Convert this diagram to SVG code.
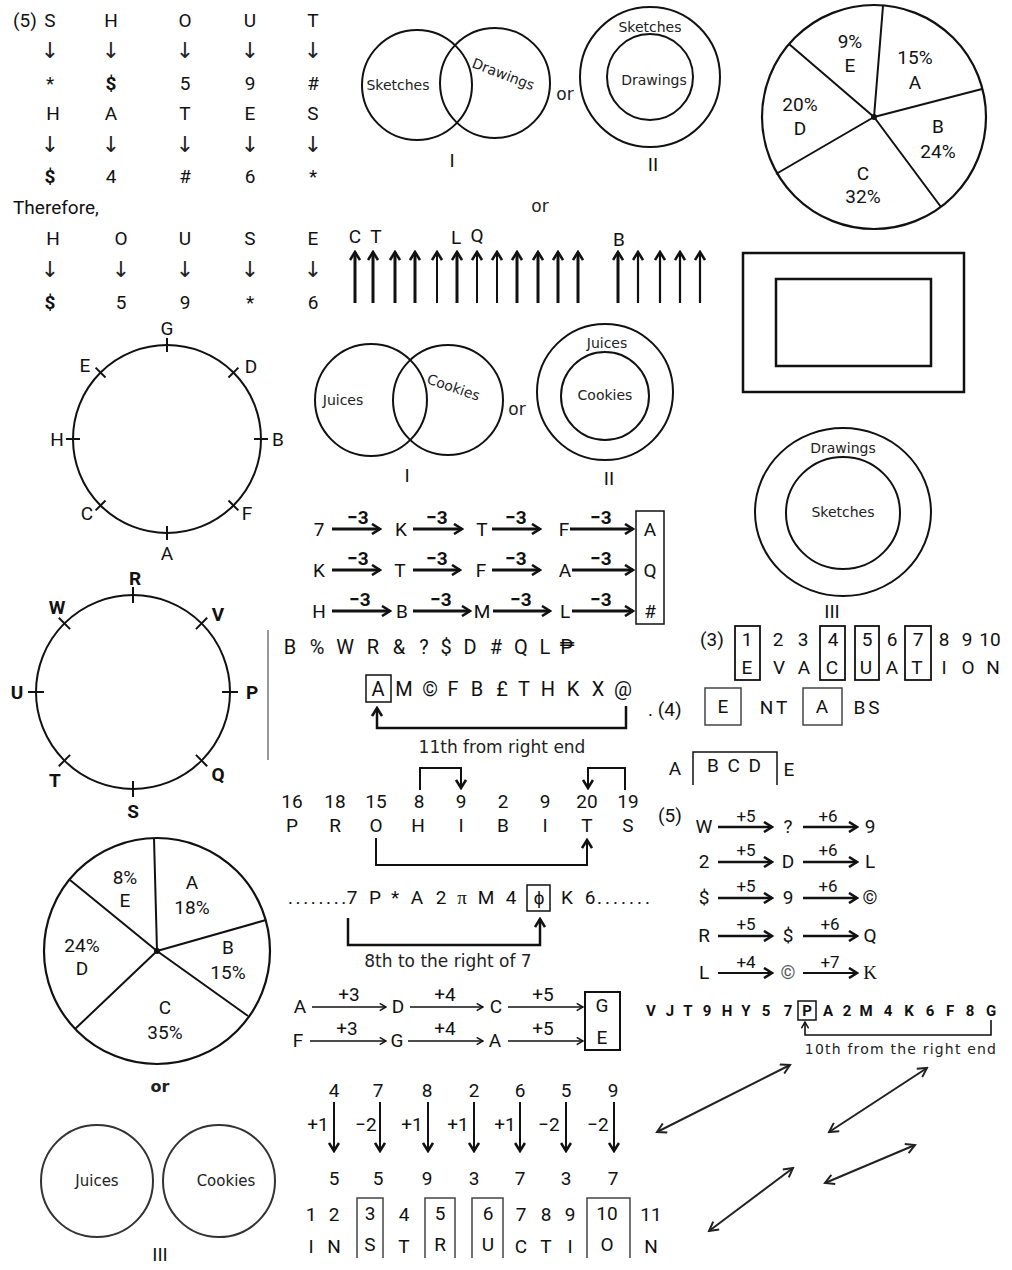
<svg xmlns="http://www.w3.org/2000/svg" width="1012" height="1270" viewBox="0 0 1012 1270">
<style>
.t{font-family:Roboto,"Liberation Sans",sans-serif;font-size:19px;fill:#111;text-anchor:middle}
.s{font-family:Roboto,"Liberation Sans",sans-serif;font-size:17px;fill:#111;text-anchor:middle}
.b{font-weight:bold}
.v{font-family:"DejaVu Sans",sans-serif;font-size:14px;fill:#222;text-anchor:middle}
.ar{font-family:"DejaVu Sans",sans-serif;font-size:22px;fill:#222;text-anchor:middle}
.ln{fill:none;stroke:#111;stroke-width:2}
.th{fill:none;stroke:#111;stroke-width:3}
.tn{fill:none;stroke:#111;stroke-width:1.5}
</style>
<defs>
<marker id="hk" viewBox="0 0 12 12" refX="10" refY="6" markerWidth="12" markerHeight="12" markerUnits="userSpaceOnUse" orient="auto"><path d="M2,1 L10,6 L2,11" fill="none" stroke="#111" stroke-width="2.6"/></marker>
<marker id="hs" viewBox="0 0 10 10" refX="9" refY="5" markerWidth="9" markerHeight="9" markerUnits="userSpaceOnUse" orient="auto"><path d="M2,1 L9,5 L2,9" fill="none" stroke="#111" stroke-width="1.6"/></marker>
<marker id="hd" viewBox="0 0 12 12" refX="10" refY="6" markerWidth="12" markerHeight="12" markerUnits="userSpaceOnUse" orient="auto-start-reverse"><path d="M1,1 L10,6 L1,11" fill="none" stroke="#222" stroke-width="2"/></marker>
</defs>
<rect width="1012" height="1270" fill="#fff"/>

<g id="shout">
<text x="13" y="27" class="t" style="text-anchor:start">(5)</text>
<text x="50" y="27" class="t">S</text><text x="111" y="27" class="t">H</text><text x="185" y="27" class="t">O</text><text x="250" y="27" class="t">U</text><text x="313" y="27" class="t">T</text>
<text x="50" y="58" class="ar">↓</text><text x="111" y="58" class="ar">↓</text><text x="185" y="58" class="ar">↓</text><text x="250" y="58" class="ar">↓</text><text x="313" y="58" class="ar">↓</text>
<text x="50" y="90" class="t">*</text><text x="111" y="90" class="t b">$</text><text x="185" y="90" class="t">5</text><text x="250" y="90" class="t">9</text><text x="313" y="90" class="t">#</text>
<text x="53" y="120" class="t">H</text><text x="111" y="120" class="t">A</text><text x="185" y="120" class="t">T</text><text x="250" y="120" class="t">E</text><text x="313" y="120" class="t">S</text>
<text x="50" y="152" class="ar">↓</text><text x="111" y="152" class="ar">↓</text><text x="185" y="152" class="ar">↓</text><text x="250" y="152" class="ar">↓</text><text x="313" y="152" class="ar">↓</text>
<text x="50" y="183" class="t b">$</text><text x="111" y="183" class="t">4</text><text x="185" y="183" class="t">#</text><text x="250" y="183" class="t">6</text><text x="313" y="183" class="t">*</text>
<text x="13" y="214" class="t" style="text-anchor:start">Therefore,</text>
<text x="53" y="245" class="t">H</text><text x="121" y="245" class="t">O</text><text x="185" y="245" class="t">U</text><text x="250" y="245" class="t">S</text><text x="313" y="245" class="t">E</text>
<text x="50" y="277" class="ar">↓</text><text x="121" y="277" class="ar">↓</text><text x="185" y="277" class="ar">↓</text><text x="250" y="277" class="ar">↓</text><text x="313" y="277" class="ar">↓</text>
<text x="50" y="309" class="t b">$</text><text x="121" y="309" class="t">5</text><text x="185" y="309" class="t">9</text><text x="250" y="309" class="t">*</text><text x="313" y="309" class="t">6</text>
</g>

<g id="venn-sketches">
<circle cx="417" cy="85" r="55" class="ln"/>
<circle cx="495" cy="83" r="55" class="ln"/>
<text x="398" y="90" class="v">Sketches</text>
<text transform="translate(471,67) rotate(21)" class="v" style="text-anchor:start">Drawings</text>
<text x="565" y="100" class="v" style="font-size:17px">or</text>
<text x="452" y="167" class="t">I</text>
<circle cx="650" cy="77" r="70" class="ln"/>
<circle cx="650" cy="77" r="43" class="ln"/>
<text x="650" y="32" class="v">Sketches</text>
<text x="654" y="85" class="v">Drawings</text>
<text x="653" y="171" class="t">II</text>
<text x="540" y="212" class="v" style="font-size:17px">or</text>
</g>

<g id="arrow-row">
<text x="355" y="243" class="t">C</text><text x="376" y="243" class="t">T</text><text x="456" y="244" class="t">L</text><text x="477" y="242" class="t">Q</text><text x="619" y="246" class="t">B</text>
<g class="th" marker-end="url(#hk)">
<path d="M355,303 V252"/><path d="M373,303 V252"/><path d="M395,303 V252"/><path d="M415,303 V252"/><path d="M437,303 V252" style="stroke-width:2"/><path d="M457,303 V252"/><path d="M477,303 V252" style="stroke-width:2"/><path d="M497,303 V252" style="stroke-width:2"/><path d="M517,303 V252"/><path d="M538,303 V252"/><path d="M558,303 V252"/><path d="M578,303 V252"/><path d="M618,303 V252"/><path d="M638,303 V252" style="stroke-width:2.2"/><path d="M660,303 V252" style="stroke-width:2.2"/><path d="M680,303 V252" style="stroke-width:2.2"/><path d="M700,303 V252" style="stroke-width:2.2"/>
</g>
</g>

<g id="pie1">
<circle cx="874" cy="117" r="112" class="ln" style="stroke-width:2.2"/>
<path d="M874,117 L883,6 M874,117 L982,89 M874,117 L941,207 M874,117 L776,174 M874,117 L789,44" class="ln"/>
<circle cx="874" cy="117" r="3" fill="#111"/>
<text x="850" y="48" class="t">9%</text><text x="850" y="72" class="t">E</text>
<text x="915" y="64" class="t">15%</text><text x="915" y="89" class="t">A</text>
<text x="800" y="111" class="t">20%</text><text x="800" y="135" class="t">D</text>
<text x="938" y="133" class="t">B</text><text x="938" y="158" class="t">24%</text>
<text x="863" y="180" class="t">C</text><text x="863" y="203" class="t">32%</text>
</g>

<g id="rects">
<rect x="743" y="253" width="221" height="139" class="ln" style="stroke-width:2.5"/>
<rect x="776" y="279" width="155" height="87" class="ln" style="stroke-width:2.5"/>
</g>

<g id="circle-g">
<circle cx="167" cy="439" r="94" class="ln"/>
<g class="ln">
<path d="M167,338 V352"/><path d="M167,526 V540"/><path d="M66,439 H80"/><path d="M254,439 H268"/>
<path d="M105.5,377.5 L95.6,367.6"/><path d="M228.5,377.5 L238.4,367.6"/><path d="M228.5,500.5 L238.4,510.4"/><path d="M105.5,500.5 L95.6,510.4"/>
</g>
<text x="167" y="335" class="t">G</text><text x="251" y="373" class="t">D</text><text x="278" y="446" class="t">B</text><text x="247" y="520" class="t">F</text>
<text x="167" y="560" class="t">A</text><text x="87" y="520" class="t">C</text><text x="57" y="446" class="t">H</text><text x="85" y="372" class="t">E</text>
</g>

<g id="circle-r">
<circle cx="133" cy="692" r="97" class="ln"/>
<g class="ln">
<path d="M133,587 V603"/><path d="M133,781 V797"/><path d="M28,692 H44"/><path d="M222,692 H238"/>
<path d="M70.1,629.1 L58.8,617.8"/><path d="M195.9,629.1 L207.2,617.8"/><path d="M195.9,754.9 L207.2,766.2"/><path d="M70.1,754.9 L58.8,766.2"/>
</g>
<text x="135" y="585" class="t b">R</text><text x="218" y="621" class="t b">V</text><text x="252" y="699" class="t b">P</text><text x="218" y="781" class="t b">Q</text>
<text x="133" y="818" class="t b">S</text><text x="55" y="787" class="t b">T</text><text x="17" y="699" class="t b">U</text><text x="57" y="614" class="t b">W</text>
</g>

<g id="venn-juices">
<circle cx="371" cy="400" r="56" class="ln"/>
<circle cx="448" cy="400" r="55" class="ln"/>
<text x="343" y="405" class="v">Juices</text>
<text transform="translate(426,383) rotate(19)" class="v" style="text-anchor:start">Cookies</text>
<text x="517" y="415" class="v" style="font-size:17px">or</text>
<text x="407" y="482" class="t">I</text>
<circle cx="605" cy="392" r="68" class="ln"/>
<circle cx="605" cy="396" r="44" class="ln"/>
<text x="607" y="348" class="v">Juices</text>
<text x="605" y="400" class="v">Cookies</text>
<text x="609" y="485" class="t">II</text>
</g>

<g id="venn-drawings">
<ellipse cx="843" cy="512" rx="88" ry="84" class="ln"/>
<ellipse cx="843" cy="513" rx="57" ry="56" class="ln"/>
<text x="843" y="453" class="v">Drawings</text>
<text x="843" y="517" class="v">Sketches</text>
<text x="832" y="618" class="t">III</text>
</g>

<g id="minus3">
<g class="th" marker-end="url(#hk)">
<path d="M332,529 H380"/><path d="M413,529 H462"/><path d="M492,529 H540"/><path d="M570,529 H633"/>
<path d="M332,570 H380"/><path d="M413,570 H460"/><path d="M492,570 H540"/><path d="M572,570 H633"/>
<path d="M332,611 H390"/><path d="M413,611 H470"/><path d="M493,611 H550"/><path d="M572,611 H633"/>
</g>
<g class="s b" style="font-size:19px">
<text x="358" y="524">−3</text><text x="437" y="524">−3</text><text x="516" y="524">−3</text><text x="601" y="524">−3</text>
<text x="358" y="565">−3</text><text x="437" y="565">−3</text><text x="516" y="565">−3</text><text x="601" y="565">−3</text>
<text x="360" y="606">−3</text><text x="441" y="606">−3</text><text x="521" y="606">−3</text><text x="601" y="606">−3</text>
</g>
<text x="319" y="536" class="t">7</text><text x="401" y="536" class="t">K</text><text x="482" y="536" class="t">T</text><text x="564" y="536" class="t">F</text><text x="650" y="536" class="t">A</text>
<text x="319" y="577" class="t">K</text><text x="400" y="577" class="t">T</text><text x="481" y="577" class="t">F</text><text x="565" y="577" class="t">A</text><text x="650" y="577" class="t">Q</text>
<text x="319" y="618" class="t">H</text><text x="402" y="618" class="t">B</text><text x="482" y="618" class="t">M</text><text x="565" y="618" class="t">L</text><text x="650" y="618" class="t">#</text>
<rect x="636" y="511" width="28" height="113" class="ln" style="stroke-width:1.5"/>
</g>

<g id="seq-b">
<path d="M268,630 V760" class="ln" style="stroke-width:1.2;stroke:#555"/>
<g class="t" style="font-size:20px">
<text x="290" y="654">B</text><text x="317" y="654">%</text><text x="345" y="654">W</text><text x="373" y="654">R</text><text x="399" y="654">&amp;</text><text x="424" y="654">?</text><text x="446" y="654">$</text><text x="470" y="654">D</text><text x="496" y="654">#</text><text x="521" y="654">Q</text><text x="545" y="654">L</text><text x="567" y="654">₱</text>
</g>
</g>

<g id="seq-a">
<rect x="366" y="675" width="25" height="27" class="ln" style="stroke-width:1.5"/>
<g class="t" style="font-size:20px">
<text x="378" y="696">A</text><text x="404" y="696">M</text><text x="430" y="696">©</text><text x="453" y="696">F</text><text x="477" y="696">B</text><text x="502" y="696">£</text><text x="524" y="696">T</text><text x="548" y="696">H</text><text x="573" y="696">K</text><text x="598" y="696">X</text><text x="623" y="696">@</text>
</g>
<path d="M626,706 V728 H377 V708" class="ln" style="stroke-width:2.5" marker-end="url(#hk)"/>
<text x="502" y="753" class="v" style="font-size:17px">11th from right end</text>
<text x="648" y="716" class="t" style="text-anchor:start">.  (4)</text>
</g>

<g id="evacuation">
<text x="712" y="646" class="t">(3)</text>
<rect x="735" y="626" width="25" height="54" class="ln" style="stroke-width:1.8"/>
<rect x="820" y="626" width="25" height="54" class="ln" style="stroke-width:1.8"/>
<rect x="855" y="626" width="24" height="54" class="ln" style="stroke-width:1.8"/>
<rect x="905" y="626" width="26" height="54" class="ln" style="stroke-width:1.8"/>
<text x="747" y="646" class="t">1</text><text x="778" y="646" class="t">2</text><text x="803" y="646" class="t">3</text><text x="833" y="646" class="t">4</text><text x="867" y="646" class="t">5</text><text x="892" y="646" class="t">6</text><text x="918" y="646" class="t">7</text><text x="944" y="646" class="t">8</text><text x="967" y="646" class="t">9</text><text x="990" y="646" class="t">10</text>
<text x="747" y="674" class="t">E</text><text x="779" y="674" class="t">V</text><text x="804" y="674" class="t">A</text><text x="832" y="674" class="t">C</text><text x="866" y="674" class="t">U</text><text x="892" y="674" class="t">A</text><text x="917" y="674" class="t">T</text><text x="944" y="674" class="t">I</text><text x="968" y="674" class="t">O</text><text x="993" y="674" class="t">N</text>
</g>

<g id="entabs">
<rect x="705" y="688" width="36" height="37" class="ln" style="stroke-width:1.5;stroke:#444"/>
<text x="723" y="713" class="t">E</text>
<text x="775" y="714" class="t" style="letter-spacing:3px">NT</text>
<rect x="803" y="688" width="39" height="37" class="ln" style="stroke-width:1.5;stroke:#444"/>
<text x="822" y="713" class="t">A</text>
<text x="868" y="714" class="t" style="letter-spacing:3px">BS</text>
</g>

<g id="abcde">
<text x="675" y="775" class="t">A</text>
<path d="M693,785 V752 H777 V785" class="ln" style="stroke-width:1.5"/>
<text x="735" y="772" class="t" style="letter-spacing:2px">B C D</text>
<text x="789" y="776" class="t">E</text>
</g>

<g id="prohibits">
<text x="292" y="808" class="t">16</text><text x="335" y="808" class="t">18</text><text x="376" y="808" class="t">15</text><text x="419" y="808" class="t">8</text><text x="461" y="808" class="t">9</text><text x="503" y="808" class="t">2</text><text x="545" y="808" class="t">9</text><text x="587" y="808" class="t">20</text><text x="628" y="808" class="t">19</text>
<text x="292" y="832" class="t">P</text><text x="335" y="832" class="t">R</text><text x="376" y="832" class="t">O</text><text x="418" y="832" class="t">H</text><text x="461" y="832" class="t">I</text><text x="503" y="832" class="t">B</text><text x="545" y="832" class="t">I</text><text x="587" y="832" class="t">T</text><text x="628" y="832" class="t">S</text>
<path d="M420,790 V768 H461 V788" class="ln" marker-end="url(#hk)"/>
<path d="M625,790 V768 H588 V788" class="ln" marker-end="url(#hk)"/>
<path d="M376,838 V865 H587 V840" class="ln" marker-end="url(#hk)"/>
<text x="670" y="822" class="t">(5)</text>
</g>

<g id="seq7">
<text x="288" y="904" class="t" style="text-anchor:start;letter-spacing:2.6px">........</text>
<text x="352" y="904" class="t">7</text>
<text x="375" y="904" class="t">P</text><text x="395" y="904" class="t">*</text><text x="417" y="904" class="t">A</text><text x="441" y="904" class="t">2</text><text x="462" y="904" class="t" style="font-family:'Liberation Serif',serif">π</text><text x="486" y="904" class="t">M</text><text x="511" y="904" class="t">4</text>
<rect x="527" y="885" width="23" height="26" class="ln" style="stroke-width:1.5"/>
<text x="539" y="904" class="t">ϕ</text>
<text x="567" y="904" class="t">K</text>
<text x="590" y="904" class="t">6</text>
<text x="597" y="904" class="t" style="text-anchor:start;letter-spacing:3px">.......</text>
<path d="M348,918 V945 H540 V919" class="ln" style="stroke-width:2.5" marker-end="url(#hk)"/>
<text x="448" y="967" class="v" style="font-size:17px">8th to the right of 7</text>
</g>

<g id="plus56">
<g class="ln" style="stroke-width:2.5" marker-end="url(#hk)">
<path d="M718,827 H772"/><path d="M803,827 H857"/>
<path d="M718,862 H772"/><path d="M803,862 H857"/>
<path d="M718,898 H772"/><path d="M803,898 H857"/>
<path d="M718,936 H772"/><path d="M803,936 H857"/>
<path d="M718,973 H772" style="stroke-width:2"/><path d="M803,973 H857" style="stroke-width:2"/>
</g>
<g class="s">
<text x="746" y="822">+5</text><text x="828" y="822">+6</text>
<text x="746" y="856">+5</text><text x="828" y="856">+6</text>
<text x="746" y="892">+5</text><text x="828" y="892">+6</text>
<text x="746" y="930">+5</text><text x="830" y="930">+6</text>
<text x="746" y="968">+4</text><text x="830" y="968">+7</text>
</g>
<text x="704" y="833" class="t">W</text><text x="788" y="833" class="t">?</text><text x="870" y="833" class="t">9</text>
<text x="704" y="868" class="t">2</text><text x="788" y="868" class="t">D</text><text x="870" y="868" class="t">L</text>
<text x="704" y="904" class="t">$</text><text x="788" y="904" class="t">9</text><text x="870" y="904" class="t">©</text>
<text x="704" y="942" class="t">R</text><text x="788" y="942" class="t">$</text><text x="870" y="942" class="t">Q</text>
<text x="704" y="979" class="t">L</text><text x="788" y="979" class="t" style="fill:#555">©</text><text x="870" y="979" class="t" style="font-family:'Liberation Serif',serif">K</text>
</g>

<g id="seq-v">
<g class="s b" style="font-size:15px">
<text x="651" y="1016">V</text><text x="670" y="1016">J</text><text x="688" y="1016">T</text><text x="707" y="1016">9</text><text x="727" y="1016">H</text><text x="746" y="1016">Y</text><text x="766" y="1016">5</text><text x="788" y="1016">7</text><text x="807" y="1016">P</text><text x="828" y="1016">A</text><text x="847" y="1016">2</text><text x="866" y="1016">M</text><text x="888" y="1016">4</text><text x="909" y="1016">K</text><text x="930" y="1016">6</text><text x="950" y="1016">F</text><text x="970" y="1016">8</text><text x="991" y="1016">G</text>
</g>
<rect x="798" y="1001" width="18" height="19" class="ln" style="stroke-width:1.5"/>
<path d="M991,1020 V1035 H805 V1022" class="ln" style="stroke-width:1.6" marker-end="url(#hs)"/>
<text x="901" y="1054" class="v" style="font-size:14px;letter-spacing:1.2px">10th from the right end</text>
</g>

<g id="plus345">
<g class="tn" marker-end="url(#hs)">
<path d="M312,1007 H386"/><path d="M410,1007 H483"/><path d="M508,1007 H583"/>
<path d="M310,1041 H386"/><path d="M408,1041 H483"/><path d="M508,1041 H583"/>
</g>
<g class="t">
<text x="349" y="1001">+3</text><text x="445" y="1001">+4</text><text x="543" y="1001">+5</text>
<text x="347" y="1035">+3</text><text x="445" y="1035">+4</text><text x="543" y="1035">+5</text>
<text x="300" y="1013">A</text><text x="398" y="1013">D</text><text x="496" y="1013">C</text><text x="602" y="1012">G</text>
<text x="298" y="1047">F</text><text x="397" y="1047">G</text><text x="495" y="1047">A</text><text x="602" y="1044">E</text>
</g>
<rect x="585" y="992" width="35" height="58" class="ln" style="stroke-width:2"/>
</g>

<g id="digits">
<g class="t">
<text x="334" y="1097">4</text><text x="378" y="1097">7</text><text x="427" y="1097">8</text><text x="474" y="1097">2</text><text x="520" y="1097">6</text><text x="566" y="1097">5</text><text x="613" y="1097">9</text>
<text x="318" y="1131">+1</text><text x="366" y="1131">−2</text><text x="412" y="1131">+1</text><text x="458" y="1131">+1</text><text x="505" y="1131">+1</text><text x="549" y="1131">−2</text><text x="598" y="1131">−2</text>
<text x="334" y="1185">5</text><text x="378" y="1185">5</text><text x="427" y="1185">9</text><text x="474" y="1185">3</text><text x="520" y="1185">7</text><text x="566" y="1185">3</text><text x="613" y="1185">7</text>
</g>
<g class="ln" marker-end="url(#hk)">
<path d="M334,1102 V1151"/><path d="M380,1102 V1151"/><path d="M428,1102 V1151"/><path d="M474,1102 V1151"/><path d="M520,1102 V1151"/><path d="M566,1102 V1151"/><path d="M614,1102 V1151"/>
</g>
</g>

<g id="instruction">
<g class="ln" style="stroke-width:1.5;stroke:#444">
<path d="M357,1258 V1198 H383 V1258"/><path d="M425,1258 V1198 H455 V1258"/><path d="M472,1258 V1198 H503 V1258"/><path d="M587,1258 V1198 H630 V1258"/>
</g>
<g class="t">
<text x="311" y="1221">1</text><text x="334" y="1221">2</text><text x="370" y="1220">3</text><text x="404" y="1221">4</text><text x="440" y="1220">5</text><text x="488" y="1220">6</text><text x="521" y="1221">7</text><text x="546" y="1221">8</text><text x="570" y="1221">9</text><text x="607" y="1220">10</text><text x="651" y="1221">11</text>
<text x="311" y="1253">I</text><text x="334" y="1253">N</text><text x="370" y="1251">S</text><text x="404" y="1253">T</text><text x="440" y="1251">R</text><text x="488" y="1251">U</text><text x="521" y="1253">C</text><text x="546" y="1253">T</text><text x="570" y="1253">I</text><text x="607" y="1251">O</text><text x="651" y="1253">N</text>
</g>
</g>

<g id="pie2">
<circle cx="157" cy="951" r="113" class="ln" style="stroke-width:2.2"/>
<path d="M157,951 L154,838 M157,951 L266,920 M157,951 L248,1016 M157,951 L75,1029 M157,951 L70,880" class="ln"/>
<circle cx="157" cy="951" r="3" fill="#111"/>
<text x="125" y="884" class="t">8%</text><text x="125" y="907" class="t">E</text>
<text x="192" y="889" class="t">A</text><text x="192" y="914" class="t">18%</text>
<text x="82" y="952" class="t">24%</text><text x="82" y="975" class="t">D</text>
<text x="228" y="954" class="t">B</text><text x="228" y="979" class="t">15%</text>
<text x="165" y="1014" class="t">C</text><text x="165" y="1039" class="t">35%</text>
<text x="160" y="1092" class="v" style="font-size:16px;font-weight:bold">or</text>
</g>

<g id="venn3">
<circle cx="97" cy="1181" r="56" class="ln" style="stroke:#333"/>
<circle cx="219" cy="1181" r="56" class="ln" style="stroke:#333"/>
<text x="97" y="1186" class="v" style="font-size:15px">Juices</text>
<text x="226" y="1186" class="v" style="font-size:15px">Cookies</text>
<text x="160" y="1261" class="t">III</text>
</g>

<g id="connectors" class="ln" style="stroke:#222;stroke-width:2" marker-start="url(#hd)" marker-end="url(#hd)">
<path d="M657,1132 L790,1065"/>
<path d="M829,1132 L927,1068"/>
<path d="M709,1231 L793,1168"/>
<path d="M825,1183 L915,1145"/>
</g>
</svg>
